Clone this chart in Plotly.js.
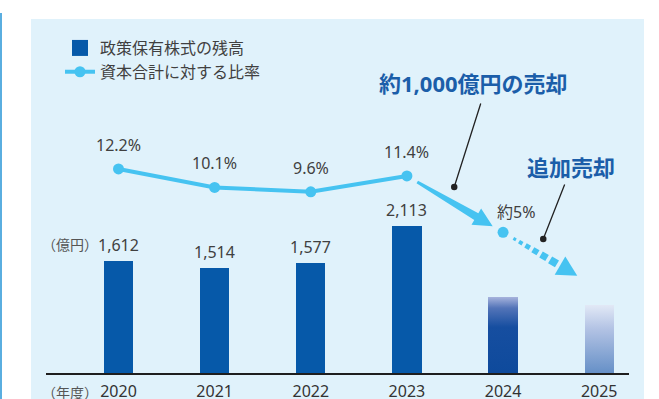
<!DOCTYPE html>
<html>
<head>
<meta charset="utf-8">
<script src="https://cdn.plot.ly/plotly-3.0.1.min.js"></script>
<style>
  html, body { margin: 0; padding: 0; background: #ffffff; }
  #wrap { position: relative; width: 659px; height: 399px; overflow: hidden; }
  #edge { position: absolute; left: 0; top: 13px; width: 2px; height: 386px; background: #5aaee0; }
  #panel { position: absolute; left: 31px; top: 19px; width: 613px; height: 380px; background: #e0f2fb; }
  #chart { position: absolute; left: 0; top: 0; width: 659px; height: 399px; }
</style>
</head>
<body>
<div id="wrap"><div id="edge"></div><div id="panel"></div><div id="chart"></div></div>
<script>
// Balance of cross-shareholdings (億円) and its ratio to total equity (%)
const years = [2020, 2021, 2022, 2023, 2024, 2025];
const actualHoldings = [1612, 1514, 1577, 2113];
const plannedHoldings = [1100, 980];
const ratioYears = [2020, 2021, 2022, 2023];
const ratioValues = [12.2, 10.1, 9.6, 11.4];
const targetYear = 2024;
const targetRatio = 5;
const seriesNames = ['政策保有株式の残高', '資本合計に対する比率'];
const callouts = ['約1,000億円の売却', '追加売却'];
const unitLabel = '（億円）';
const yearLabel = '（年度）';

const holdings = actualHoldings.concat(plannedHoldings);

const FONT = "'Noto Sans', 'Noto Sans CJK JP', sans-serif";
const CJK = "'Noto Sans CJK JP', 'Noto Sans', sans-serif";
const BAR = '#0659a9';
const LINE = '#46c3f1';
const TEXT = '#404040';
const CALLOUT = '#1b5ea9';

// plot geometry (px) and axis ranges
const W = 659, H = 399;
const M = { l: 46, r: 30, t: 19, b: 26 };
const PW = W - M.l - M.r, PH = H - M.t - M.b;
const xRange = [2019.246, 2025.31];
const yRange = [0, 5094];
const y2Range = [-10.99, 29.24];

const xPx = x => M.l + (x - xRange[0]) / (xRange[1] - xRange[0]) * PW;
const y2Px = v => M.t + (y2Range[1] - v) / (y2Range[1] - y2Range[0]) * PH;
const pxX = p => xRange[0] + (p - M.l) / PW * (xRange[1] - xRange[0]);
const pxY2 = p => y2Range[1] - (p - M.t) / PH * (y2Range[1] - y2Range[0]);

// direction of the trend from the last actual ratio to the target ratio
const lastYear = ratioYears[ratioYears.length - 1];
const lastRatio = ratioValues[ratioValues.length - 1];
const p0 = [xPx(lastYear), y2Px(lastRatio)];
const p1 = [xPx(targetYear), y2Px(targetRatio)];
const dx = p1[0] - p0[0], dy = p1[1] - p0[1];
const len = Math.hypot(dx, dy);
const u = [dx / len, dy / len];
const n = [-u[1], u[0]];
const at = (p, a, b) => [p[0] + u[0] * a + n[0] * b, p[1] + u[1] * a + n[1] * b];
const toPath = pts => 'M' + pts.map(p => pxX(p[0]).toFixed(4) + ',' + pxY2(p[1]).toFixed(4)).join('L') + 'Z';

// solid tapered arrow: last actual -> target
const S = at(p0, 12, 0);
const T = at(p1, -12, 0);
const Bh = at(T, -19, 0);
const solidArrow = toPath([
  at(S, 0, 1.5), at(Bh, 0, 4), at(Bh, 0, 9.5), T,
  at(Bh, 0, -9.5), at(Bh, 0, -4), at(S, 0, -1.5)
]);

// dashed arrow continuing beyond the target
const T2 = at(p1, 86, 0);
const B2 = at(T2, -20, 0);
let dashPath = '';
let pos = 12;
for (let i = 0; i < 6; i++) {
  const l = 3 + i, w = (3 + i) / 2;
  const a = at(p1, pos, 0), b = at(p1, pos + l, 0);
  dashPath += toPath([at(a, 0, w), at(b, 0, w), at(b, 0, -w), at(a, 0, -w)]);
  pos += l + 3.5;
}
const dashHead = toPath([at(B2, 0, 10.5), T2, at(B2, 0, -10.5)]);

const traces = [
  {
    type: 'bar',
    name: seriesNames[0],
    x: years,
    y: holdings,
    width: 0.305,
    marker: { color: [BAR, BAR, BAR, BAR, '#0e4a9c', '#7d9fd0'], line: { width: 0 } },
    hoverinfo: 'skip'
  },
  {
    type: 'scatter',
    mode: 'lines+markers',
    name: seriesNames[1],
    x: ratioYears,
    y: ratioValues,
    yaxis: 'y2',
    line: { color: LINE, width: 4 },
    marker: { color: LINE, size: 11 },
    hoverinfo: 'skip'
  },
  {
    type: 'scatter',
    mode: 'markers',
    x: [targetYear],
    y: [targetRatio],
    yaxis: 'y2',
    showlegend: false,
    marker: { color: LINE, size: 11 },
    hoverinfo: 'skip'
  }
];

const annotations = [];
actualHoldings.forEach((v, i) => annotations.push({
  x: years[i], y: v, xref: 'x', yref: 'y', text: v.toLocaleString('en-US'),
  showarrow: false, yanchor: 'middle', yshift: 16,
  font: { family: FONT, size: 16, color: TEXT }
}));
ratioValues.forEach((v, i) => annotations.push({
  x: ratioYears[i], y: v, xref: 'x', yref: 'y2', text: v.toFixed(1) + '%',
  showarrow: false, yanchor: 'middle', yshift: 24,
  font: { family: FONT, size: 16, color: TEXT }
}));
annotations.push({
  x: targetYear, y: targetRatio, xref: 'x', yref: 'y2', text: '約' + targetRatio + '%',
  showarrow: false, yanchor: 'middle', xshift: 13, yshift: 20,
  font: { family: FONT, size: 16, color: TEXT }
});
annotations.push({
  x: -0.011, y: 0.3644, xref: 'paper', yref: 'paper', text: unitLabel,
  showarrow: false, xanchor: 'left', yanchor: 'middle',
  font: { family: CJK, size: 14, color: '#555' }
});
annotations.push({
  x: -0.011, y: -0.0537, xref: 'paper', yref: 'paper', text: yearLabel,
  showarrow: false, xanchor: 'left', yanchor: 'middle',
  font: { family: CJK, size: 14, color: '#555' }
});
annotations.push({
  x: 0.734, y: 0.8178, xref: 'paper', yref: 'paper', text: '<b>' + callouts[0] + '</b>',
  showarrow: false, xanchor: 'center', yanchor: 'middle',
  font: { family: FONT, size: 22, color: CALLOUT }
});
annotations.push({
  x: 0.9005, y: 0.5847, xref: 'paper', yref: 'paper', text: '<b>' + callouts[1] + '</b>',
  showarrow: false, xanchor: 'center', yanchor: 'middle',
  font: { family: CJK, size: 22, color: CALLOUT }
});
// leader lines ending in a dot
annotations.push({
  x: 2023.492, y: 10.15, xref: 'x', yref: 'y2', text: '', showarrow: true,
  ax: 27, ay: -85, arrowhead: 6, arrowwidth: 1.3, arrowsize: 1.25, arrowcolor: '#222'
});
annotations.push({
  x: 2024.418, y: 4.24, xref: 'x', yref: 'y2', text: '', showarrow: true,
  ax: 22, ay: -56, arrowhead: 6, arrowwidth: 1.3, arrowsize: 1.25, arrowcolor: '#222'
});

const shapes = [
  { type: 'path', xref: 'x', yref: 'y2', path: solidArrow, fillcolor: LINE, line: { width: 0 } },
  { type: 'path', xref: 'x', yref: 'y2', path: dashPath, fillcolor: LINE, line: { width: 0 } },
  { type: 'path', xref: 'x', yref: 'y2', path: dashHead, fillcolor: LINE, line: { width: 0 } }
];

const layout = {
  width: W, height: H,
  margin: M,
  paper_bgcolor: 'rgba(0,0,0,0)',
  plot_bgcolor: 'rgba(0,0,0,0)',
  font: { family: FONT, color: TEXT },
  showlegend: true,
  legend: {
    x: 0.024, y: 0.966, xanchor: 'left', yanchor: 'top',
    bgcolor: 'rgba(0,0,0,0)', font: { family: CJK, size: 16, color: TEXT },
    traceorder: 'normal'
  },
  xaxis: {
    range: xRange, tickvals: years, ticktext: years.map(String),
    showgrid: false, zeroline: false, showline: true, linecolor: '#1e1e1e', linewidth: 1.5,
    ticks: '', ticklabelstandoff: 3,
    tickfont: { family: FONT, size: 16, color: '#333' }, fixedrange: true
  },
  yaxis: { range: yRange, visible: false, fixedrange: true },
  yaxis2: { range: y2Range, overlaying: 'y', visible: false, fixedrange: true },
  annotations: annotations,
  shapes: shapes,
  bargap: 0
};

Plotly.newPlot('chart', traces, layout, { displayModeBar: false, staticPlot: true }).then(gd => {
  // vertical fades on the planned bars
  const NS = 'http://www.w3.org/2000/svg';
  const defs = gd.querySelector('.main-svg defs');
  const grad = (id, stops) => {
    const g = document.createElementNS(NS, 'linearGradient');
    g.setAttribute('id', id);
    g.setAttribute('x1', '0'); g.setAttribute('y1', '0');
    g.setAttribute('x2', '0'); g.setAttribute('y2', '1');
    stops.forEach(([o, c]) => {
      const s = document.createElementNS(NS, 'stop');
      s.setAttribute('offset', o);
      s.setAttribute('stop-color', c);
      g.appendChild(s);
    });
    defs.appendChild(g);
  };
  grad('fade2024', [[0, '#aab6de'], [0.15, '#5374b8'], [0.4, '#164ea0'], [1, '#0e4a9c']]);
  grad('fade2025', [[0, '#e2e9f6'], [0.35, '#b3c3e4'], [1, '#6690c7']]);
  const bars = gd.querySelectorAll('.barlayer .point path');
  if (bars[4]) bars[4].style.fill = 'url(#fade2024)';
  if (bars[5]) bars[5].style.fill = 'url(#fade2025)';
  // larger square swatch for the bar series
  const items = gd.querySelectorAll('.legend .traces');
  if (items[0]) {
    const sw = items[0].querySelector('.legendpoints path');
    if (sw) sw.setAttribute('d', 'M8,8H-8V-8H8Z');
  }
});
</script>
</body>
</html>
